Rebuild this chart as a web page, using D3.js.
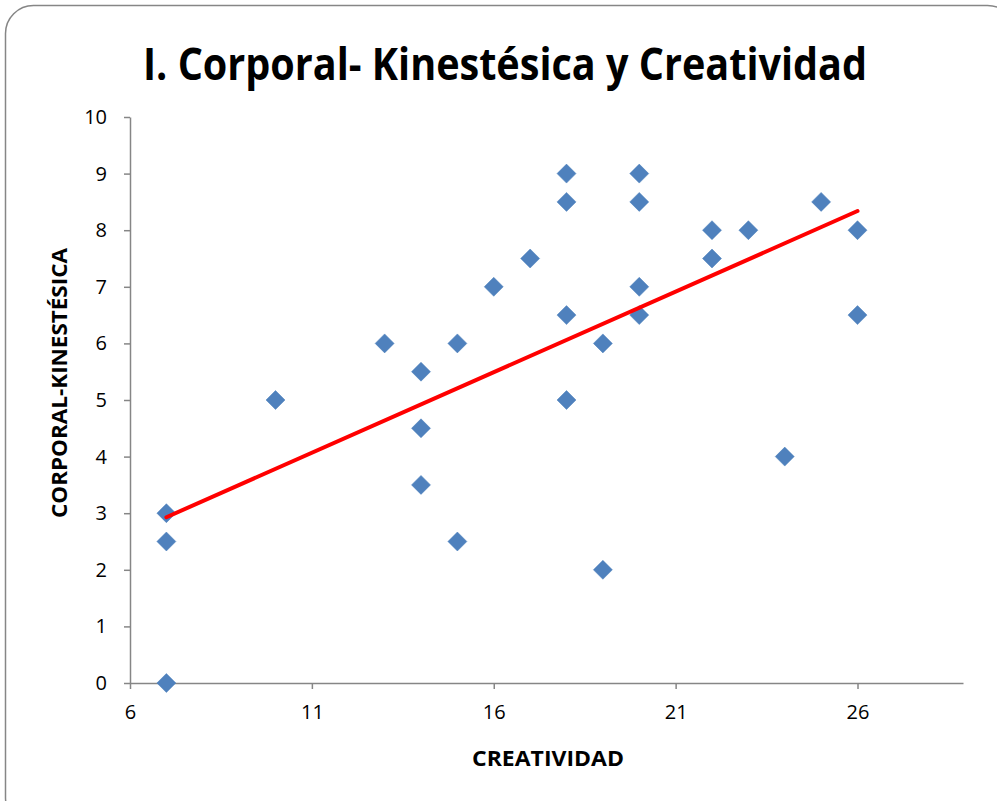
<!DOCTYPE html>
<html>
<head>
<meta charset="utf-8">
<script src="https://cdn.jsdelivr.net/npm/d3@7"></script>
<style>
  body { margin: 0; background: #fff; }
  text { font-family: "Open Sans", "DejaVu Sans", sans-serif; }
</style>
</head>
<body>
<div id="chart"></div>
<script>
var creatividad = [7, 7, 7, 10, 13, 14, 14, 14, 15, 15, 16, 17, 18, 18, 18, 18, 19, 19, 20, 20, 20, 20, 22, 22, 23, 24, 25, 26, 26];
var corporal = [3, 2.5, 0, 5, 6, 5.5, 4.5, 3.5, 6, 2.5, 7, 7.5, 9, 8.5, 6.5, 5, 6, 2, 9, 8.5, 7, 6.5, 8, 7.5, 8, 4, 8.5, 8, 6.5];
var xTicks = [6, 11, 16, 21, 26];
var yTicks = [0, 1, 2, 3, 4, 5, 6, 7, 8, 9, 10];

var svgWidth = 997;
var svgHeight = 801;

var margin = { top: 117, right: 34, bottom: 118, left: 130 };
var width = svgWidth - margin.left - margin.right;
var height = svgHeight - margin.top - margin.bottom;

var svg = d3.select("#chart")
  .append("svg")
  .attr("width", svgWidth)
  .attr("height", svgHeight);

// outer frame
svg.append("rect")
  .attr("x", 5.5)
  .attr("y", 5.5)
  .attr("width", 1010)
  .attr("height", 820)
  .attr("rx", 28)
  .attr("fill", "#fff")
  .attr("stroke", "#868686")
  .attr("stroke-width", 1.5);

svg.append("text")
  .attr("x", 505)
  .attr("y", 80)
  .attr("text-anchor", "middle")
  .attr("font-size", "44px")
  .attr("font-weight", "bold")
  .attr("textLength", 724)
  .attr("lengthAdjust", "spacingAndGlyphs")
  .text("I. Corporal- Kinestésica y Creatividad");

var chartGroup = svg.append("g")
  .attr("transform", `translate(${margin.left}, ${margin.top})`);

var data = creatividad.map(function(c, i) {
  return { x: c, y: corporal[i] };
});

var xScale = d3.scaleLinear()
  .domain([6, 28.9])
  .range([0, width]);

var yScale = d3.scaleLinear()
  .domain([0, 10])
  .range([height, 0]);

var bottomAxis = d3.axisBottom(xScale).tickValues(xTicks).tickSizeInner(6).tickSizeOuter(0).tickPadding(12);
var leftAxis = d3.axisLeft(yScale).tickValues(yTicks).tickSizeInner(6).tickSizeOuter(0).tickPadding(17);

var xAxisG = chartGroup.append("g")
  .attr("transform", `translate(0, ${height})`)
  .call(bottomAxis);

var yAxisG = chartGroup.append("g")
  .call(leftAxis);

[xAxisG, yAxisG].forEach(function(g) {
  g.selectAll("path, line").attr("stroke", "#868686").attr("stroke-width", 1.5);
  g.selectAll("text")
    .attr("font-family", "'Open Sans', sans-serif")
    .attr("font-size", "20px")
    .attr("fill", "#000");
});
xAxisG.selectAll("text").attr("dy", "0.9em");

// linear trend line (least squares)
var mx = d3.mean(creatividad);
var my = d3.mean(corporal);
var sxy = d3.sum(data, d => (d.x - mx) * (d.y - my));
var sxx = d3.sum(data, d => (d.x - mx) * (d.x - mx));
var slope = sxy / sxx;
var intercept = my - slope * mx;
var xMin = d3.min(creatividad);
var xMax = d3.max(creatividad);

chartGroup.selectAll(".diamond")
  .data(data)
  .enter()
  .append("path")
  .attr("class", "diamond")
  .attr("d", "M0,-9.5L9.5,0L0,9.5L-9.5,0Z")
  .attr("transform", d => `translate(${xScale(d.x)}, ${yScale(d.y)})`)
  .attr("fill", "#4F81BD")
  .attr("stroke", "#4A7EBB")
  .attr("stroke-width", 0.5);

chartGroup.append("line")
  .attr("x1", xScale(xMin))
  .attr("y1", yScale(intercept + slope * xMin))
  .attr("x2", xScale(xMax))
  .attr("y2", yScale(intercept + slope * xMax))
  .attr("stroke", "#FF0000")
  .attr("stroke-width", 4)
  .attr("stroke-linecap", "round");

chartGroup.append("text")
  .attr("transform", "rotate(-90)")
  .attr("x", 0 - (height / 2) + 17)
  .attr("y", 0 - margin.left + 67)
  .attr("text-anchor", "middle")
  .attr("font-size", "21px")
  .attr("font-weight", "bold")
  .attr("textLength", 270)
  .attr("lengthAdjust", "spacingAndGlyphs")
  .text("CORPORAL-KINESTÉSICA");

chartGroup.append("text")
  .attr("x", 548 - margin.left)
  .attr("y", height + 83)
  .attr("text-anchor", "middle")
  .attr("font-size", "21px")
  .attr("font-weight", "bold")
  .attr("textLength", 152)
  .attr("lengthAdjust", "spacingAndGlyphs")
  .text("CREATIVIDAD");
</script>
</body>
</html>
